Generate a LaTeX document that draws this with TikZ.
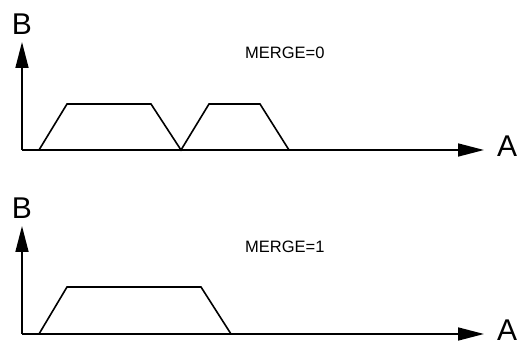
\documentclass[tikz,border=0pt]{standalone}
\usepackage{fontspec}
\setmainfont{Liberation Sans}
\usetikzlibrary{arrows.meta}
\begin{document}
\begin{tikzpicture}[x=1pt,y=-1pt,
  axis/.style={line width=1.6pt,-{Triangle[length=26pt,width=13pt]}},
  curve/.style={line width=1.6pt,line join=miter},
  big/.style={inner sep=0pt,font=\fontsize{30}{30}\selectfont},
  small/.style={inner sep=0pt,anchor=base west,font=\fontsize{16.5}{16.5}\selectfont}]
\useasboundingbox (0,0) rectangle (517,344);
% top panel
\coordinate (o1) at (22,150);
\coordinate (yt1) at (22,42);
\coordinate (xt1) at (484,150);
\draw[axis] (o1) -- (yt1);
\draw[axis] (o1) -- (xt1);
\node[big,anchor=base] (B1) at (22,35) {B};
\node[big,anchor=base west] (A1) at (497,157) {A};
\node[small] (m0) at (245,59) {MERGE=0};
\coordinate (p1) at (39,150);
\coordinate (p2) at (67,104);
\coordinate (p3) at (151,104);
\coordinate (p4) at (181,150);
\coordinate (p5) at (209,104);
\coordinate (p6) at (260,104);
\coordinate (p7) at (289,150);
\draw[curve] (p1) -- (p2) -- (p3) -- (p4) -- (p5) -- (p6) -- (p7);
% bottom panel
\coordinate (o2) at (22,334);
\coordinate (yt2) at (22,226);
\coordinate (xt2) at (484,334);
\draw[axis] (o2) -- (yt2);
\draw[axis] (o2) -- (xt2);
\node[big,anchor=base] (B2) at (22,219) {B};
\node[big,anchor=base west] (A2) at (497,341) {A};
\node[small] (m1) at (245,253) {MERGE=1};
\coordinate (q1) at (39,334);
\coordinate (q2) at (67,287);
\coordinate (q3) at (201,287);
\coordinate (q4) at (231,334);
\draw[curve] (q1) -- (q2) -- (q3) -- (q4);
\end{tikzpicture}
\end{document}
